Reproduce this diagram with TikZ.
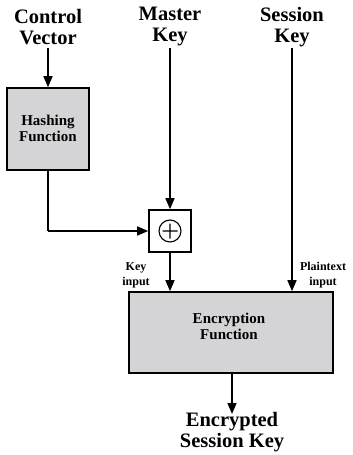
\documentclass[tikz,border=0pt]{standalone}
\usepackage{fontspec}
\setmainfont{Liberation Serif}
\usetikzlibrary{arrows.meta}
\definecolor{boxgray}{RGB}{212,212,214}
\begin{document}
\begin{tikzpicture}[x=1pt,y=-1pt,
  flow/.style={line width=1.6pt,-{Triangle[width=9pt,length=11pt]}},
  wire/.style={line width=1.6pt},
  func/.style={draw,line width=1.6pt,fill=boxgray,inner sep=0pt},
  functext/.style={font=\bfseries\fontsize{15}{16}\selectfont,align=center,inner sep=0pt},
  title/.style={font=\bfseries\fontsize{20.5}{21}\selectfont,align=center,inner sep=0pt},
  tag/.style={font=\bfseries\fontsize{12}{15}\selectfont,align=center,inner sep=0pt}]
\useasboundingbox (0,0) rectangle (353,455);
% inputs
\node[title] (cv) at (48,27) {Control\\Vector};
\node[title] (mk) at (170,27) {Master\\Key};
\node[title] (sk) at (292,27) {Session\\Key};
% functions
\node[func,minimum width=82pt,minimum height=82pt] (hash) at (48,129) {};
\node[functext] (hasht) at (48,128) {Hashing\\Function};
\node[draw,line width=1.6pt,fill=white,minimum width=42pt,minimum height=42pt] (xor) at (170,231) {};
\draw[line width=1.1pt] (xor.center) circle (11pt)
  (xor.center) ++(-7.5pt,0) -- ++(15pt,0)
  (xor.center) ++(0,-7.5pt) -- ++(0,15pt);
\node[func,minimum width=204pt,minimum height=81pt] (enc) at (231,332.5) {};
\node[functext] (enct) at (229,326) {Encryption\\Function};
\node[tag] (kin) at (136,275) {Key\\input};
\node[tag] (pin) at (323,275) {Plaintext\\input};
\node[title] (out) at (232,432) {Encrypted\\Session Key};
% connectors
\coordinate (cvb) at (48,48);
\coordinate (mkb) at (170,48);
\coordinate (skb) at (292,48);
\coordinate (bend) at (48,231);
\coordinate (outtop) at (232,414);
\draw[flow] (cvb) -- (hash.north);
\draw[wire] (hash.south) -- (bend);
\draw[flow] (bend) -- (xor.west);
\draw[flow] (mkb) -- (xor.north);
\draw[flow] (xor.south) -- (xor.south |- enc.north);
\draw[flow] (skb) -- (skb |- enc.north);
\draw[flow] (outtop |- enc.south) -- (outtop);
\end{tikzpicture}
\end{document}
